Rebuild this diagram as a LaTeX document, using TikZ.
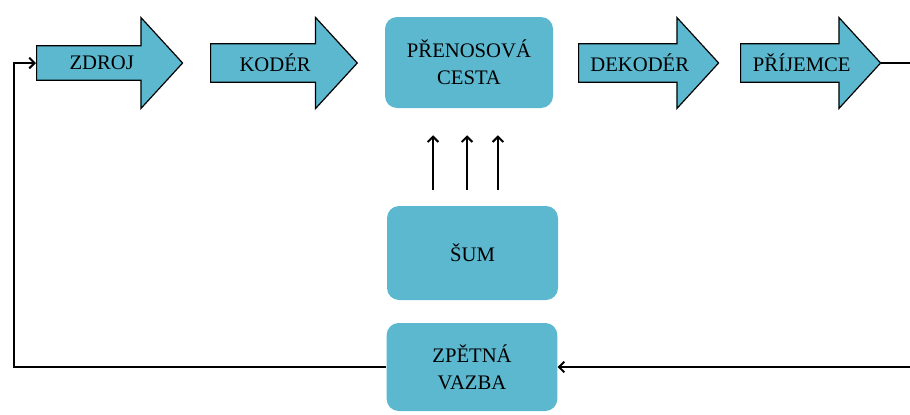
\documentclass[tikz,border=0pt]{standalone}
\usepackage{fontspec}
\setmainfont{Liberation Serif}
\usepackage{tikz}
\usetikzlibrary{shapes,arrows,positioning,calc,arrows.meta}
\definecolor{boxcyan}{RGB}{91,184,207}
\tikzset{
    blok/.style={single arrow, draw=black, line width=0.9pt, fill=boxcyan,
        single arrow head extend=12.5pt, single arrow tip angle=95,
        minimum width=68.25pt, anchor=tail, inner sep=2pt,
        font=\fontsize{15.5}{20}\selectfont},
    uzel/.style={rectangle, rounded corners=9pt, fill=boxcyan, align=center,
        font=\fontsize{15.5}{20}\selectfont},
    spoj/.style={line width=1.5pt, -{Straight Barb[length=4pt,width=8pt]}},
}
\begin{document}
\begin{tikzpicture}[x=0.75pt, y=-0.75pt]
    \useasboundingbox (0,0) rectangle (910,414);

    \node[blok, minimum height=109.5pt] (zdroj) at (36,63) {ZDROJ};
    \node[blok, minimum height=110pt] (koder) at (210,63) {KODÉR};
    \node[uzel, minimum width=126pt, minimum height=68.25pt] (kanal) at (469,62.5) {PŘENOSOVÁ\\CESTA};
    \node[blok, minimum height=105pt] (dekoder) at (578,63) {DEKODÉR};
    \node[blok, minimum height=105pt] (prijemce) at (740,63) {PŘÍJEMCE};

    \node[uzel, minimum width=128.25pt, minimum height=70.5pt] (sum) at (472.5,253) {ŠUM};
    \node[uzel, minimum width=128pt, minimum height=66pt] (zpetna) at (472,367) {ZPĚTNÁ\\VAZBA};

    \foreach \dx in {-29.6pt,-4.1pt,19.1pt}
        \draw[spoj, shorten <=12pt, shorten >=20.25pt] ([xshift=\dx]sum.north) -- ([xshift=\dx]sum.north |- kanal.south);

    % zpetna vazba
    \coordinate (vpravo) at (913,63);
    \coordinate (vlevo) at (14,63);
    \draw[spoj] (prijemce.tip) -- (vpravo) |- (zpetna.east);
    \draw[spoj] (zpetna.west) -| (vlevo) -- (zdroj.tail);
\end{tikzpicture}
\end{document}
